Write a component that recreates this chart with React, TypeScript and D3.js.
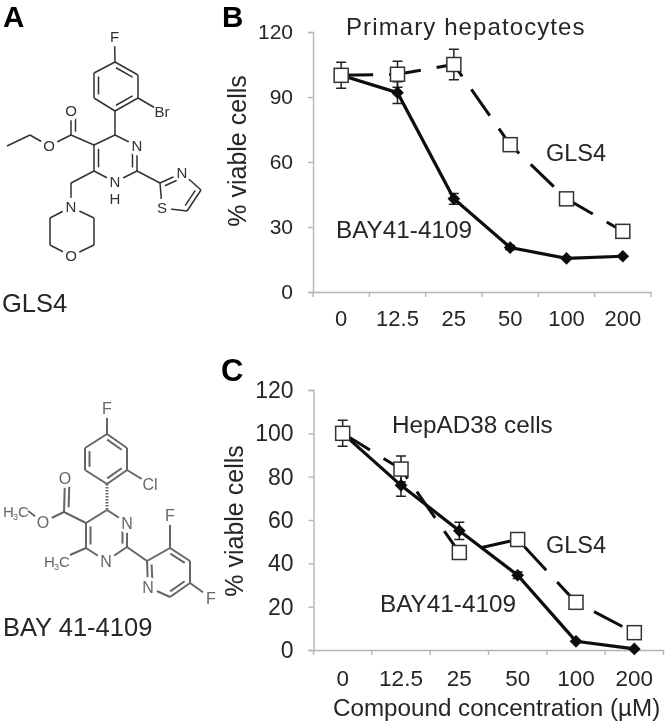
import { useEffect, useRef } from 'react';
import * as d3 from 'd3';

const doses = ['0', '12.5', '25', '50', '100', '200'];

// panel B, primary hepatocytes
const hepBay = [100, 92, 43, 20.5, 15.5, 16.5];
const hepBayErr = [0, 5, 2.5, 1, 0, 0];
const hepGls = [100, 100.5, 105, 68, 43, 28];
const hepGlsErr = [6, 6, 7, 3, 0, 0];
const hepTicks = [0, 30, 60, 90, 120];

// panel C, HepAD38
const adBay = [100, 76, 55, 34.5, 4, 0.5];
const adBayErr = [0, 5, 4, 1.5, 0, 0];
const adGls = [100, 83.5, 45, 51, 22, 8];
const adGlsErr = [6, 6, 0, 0, 0, 0];
const adTicks = [0, 20, 40, 60, 80, 100, 120];

type Atom = [number, number, string?];
type Bond = [number, number, number?];

// structures: x, y, atom label
const glsAtoms: Atom[] = [
  [115, 62], [138, 75], [138, 98], [115, 111], [94, 98], [94, 73], // 0-5 phenyl
  [114.5, 37, 'F'], [162, 112, 'Br'], // 6-7
  [115, 135], [137, 146, 'N'], [137, 171], [115, 182, 'N'], [94, 171], [94, 145], // 8-13 ring
  [71, 135], [71, 111, 'O'], [49, 146, 'O'], [30, 135], [7, 146], // 14-18 ester
  [71, 183], [71, 207, 'N'], [94, 218], [94, 245], [71, 256, 'O'], [50, 245], [50, 218], // 19-25 morpholine
  [160, 183], [182, 173, 'N'], [201, 190], [187, 211], [162, 208, 'S'], // 26-30 thiazole
];
const glsBonds: Bond[] = [
  [0, 1, 1], [1, 2], [2, 3, 1], [3, 4], [4, 5, 1], [5, 0], [0, 6], [2, 7], [3, 8],
  [8, 9], [9, 10, 1], [10, 11], [11, 12], [12, 13, 1], [13, 8], [13, 14], [14, 15, 1], [14, 16],
  [16, 17], [17, 18], [12, 19], [19, 20], [20, 21], [21, 22], [22, 23], [23, 24], [24, 25], [25, 20],
  [10, 26], [26, 27, 1], [27, 28], [28, 29, 1], [29, 30], [30, 26],
];

const bayAtoms: Atom[] = [
  [107, 434], [127, 448], [127, 470], [107, 484], [85, 470], [85, 448], // 0-5 phenyl
  [107, 408, 'F'], [150, 484, 'Cl'], // 6-7
  [107, 510], [127, 523, 'N'], [127, 547], [106, 561, 'N'], [86, 548], [86, 523], // 8-13 ring
  [64, 512], [65, 478, 'O'], [43, 522, 'O'], [28, 511], [70, 555], // 14-18
  [147, 561], [170, 548], [190, 561], [190, 583], [170, 597], [148, 587, 'N'], // 19-24 pyridine
  [170, 515, 'F'], [211, 598, 'F'], // 25-26
];
const bayBonds: Bond[] = [
  [0, 1, 1], [1, 2], [2, 3, 1], [3, 4], [4, 5, 1], [5, 0], [0, 6], [2, 7],
  [8, 9], [9, 10, 1], [10, 11], [11, 12], [12, 13, 1], [13, 8], [13, 14], [14, 15, 1], [14, 16],
  [16, 17], [12, 18], [10, 19], [19, 20], [20, 21, 1], [21, 22], [22, 23, 1], [23, 24], [24, 19, 1],
  [20, 25], [22, 26],
];
// the hashed wedge from C4 up to the phenyl ring
const bayWedge = [3, 8];

const FONT = '"Liberation Sans", Arial, sans-serif';

export default function App() {
  const svgRef = useRef<SVGSVGElement>(null);

  useEffect(() => {
    const svg = d3.select(svgRef.current);
    svg.selectAll('*').remove();
    svg.attr('font-family', FONT);

    svg.append('defs').append('filter').attr('id', 'soft')
      .append('feGaussianBlur').attr('stdDeviation', 0.45);
    const root = svg.append('g').attr('filter', 'url(#soft)');

    const label = (x: number, y: number, text: string, size: number, opts: any = {}) =>
      root.append('text')
        .attr('x', x).attr('y', y)
        .attr('font-size', size)
        .attr('fill', opts.fill || '#262626')
        .attr('font-weight', opts.weight || null)
        .attr('letter-spacing', opts.spacing || null)
        .attr('text-anchor', opts.anchor || null)
        .text(text);

    // panel letters
    label(3, 27, 'A', 29.5, { weight: 'bold', fill: '#000' });
    label(222, 27, 'B', 29.5, { weight: 'bold', fill: '#000' });
    label(221, 381, 'C', 31, { weight: 'bold', fill: '#000' });

    const molecule = (atoms: Atom[], bonds: Bond[], colour: string, width: number, size: number) => {
      const g = root.append('g');
      const line = d3.line();
      bonds.forEach(([a, b, dbl]) => {
        const p = atoms[a];
        const q = atoms[b];
        g.append('path').attr('d', line([[p[0], p[1]], [q[0], q[1]]]))
          .attr('stroke', colour).attr('stroke-width', width).attr('fill', 'none');
        if (dbl) {
          const dx = q[0] - p[0];
          const dy = q[1] - p[1];
          const len = Math.hypot(dx, dy);
          const nx = (-dy / len) * 4.5 * dbl;
          const ny = (dx / len) * 4.5 * dbl;
          const tx = dx * 0.14;
          const ty = dy * 0.14;
          g.append('path')
            .attr('d', line([[p[0] + nx + tx, p[1] + ny + ty], [q[0] + nx - tx, q[1] + ny - ty]]))
            .attr('stroke', colour).attr('stroke-width', width).attr('fill', 'none');
        }
      });
      atoms.filter((d) => d[2]).forEach((d) => {
        g.append('circle').attr('cx', d[0]).attr('cy', d[1])
          .attr('r', size * 0.62).attr('fill', '#fff');
        g.append('text').attr('x', d[0]).attr('y', d[1] + size * 0.36)
          .attr('text-anchor', 'middle').attr('font-size', size)
          .attr('fill', colour).text(d[2] as string);
      });
      return g;
    };

    const gls = molecule(glsAtoms, glsBonds, '#333', 1.5, 15);
    gls.append('text').attr('x', 115).attr('y', 204).attr('text-anchor', 'middle')
      .attr('font-size', 15).attr('fill', '#333').text('H');

    const bay = molecule(bayAtoms, bayBonds, '#666', 2, 16);
    const [wa, wb] = bayWedge;
    bay.append('path')
      .attr('d', d3.line()([[bayAtoms[wa][0], bayAtoms[wa][1]], [bayAtoms[wb][0], bayAtoms[wb][1]]]))
      .attr('stroke', '#666').attr('stroke-width', 3).attr('stroke-dasharray', '1.5 1.5').attr('fill', 'none');
    bay.append('text').attr('x', 3).attr('y', 517).attr('font-size', 15).attr('fill', '#666').text('H');
    bay.append('text').attr('x', 13).attr('y', 520).attr('font-size', 9).attr('fill', '#666').text('3');
    bay.append('text').attr('x', 18).attr('y', 517).attr('font-size', 15).attr('fill', '#666').text('C');
    bay.append('text').attr('x', 44).attr('y', 567).attr('font-size', 15).attr('fill', '#666').text('H');
    bay.append('text').attr('x', 54).attr('y', 570).attr('font-size', 9).attr('fill', '#666').text('3');
    bay.append('text').attr('x', 59).attr('y', 567).attr('font-size', 15).attr('fill', '#666').text('C');

    label(2, 312, 'GLS4', 25.5);
    label(3, 636, 'BAY 41-4109', 25.5);

    const panel = (cfg: any) => {
      const x = d3.scaleBand().domain(doses).range(cfg.xRange);
      const y = d3.scaleLinear().domain([0, 120]).range(cfg.yRange);
      const g = root.append('g');

      const yAxis = g.append('g')
        .attr('transform', `translate(${cfg.xRange[0]},0)`)
        .call(d3.axisLeft(y).tickValues(cfg.ticks).tickSize(5).tickPadding(15));
      const xAxis = g.append('g')
        .attr('transform', `translate(0,${cfg.yRange[0]})`)
        .call(d3.axisBottom(x).tickSize(0).tickPadding(cfg.xPad));
      // category ticks sit between the bands
      doses.concat('').forEach((d, i) => {
        const tx = cfg.xRange[0] + i * x.step();
        xAxis.append('line').attr('x1', tx).attr('x2', tx).attr('y1', 0).attr('y2', 5);
      });
      [yAxis, xAxis].forEach((a) => {
        a.selectAll('path,line').attr('stroke', '#b5b5b5').attr('stroke-width', 1.4);
        a.selectAll('text').attr('font-family', FONT).attr('fill', '#262626');
      });
      yAxis.selectAll('text').attr('font-size', cfg.ySize);
      xAxis.selectAll('text').attr('font-size', cfg.xSize);

      const cx = (_: number, i: number) => (x(doses[i]) as number) + x.bandwidth() / 2;
      const path = d3.line<number>().x(cx).y((d) => y(d));

      const errors = (vals: number[], errs: number[]) => {
        vals.forEach((v, i) => {
          if (!errs[i]) return;
          const px = cx(v, i);
          g.append('path')
            .attr('d', `M${px - 5},${y(v + errs[i])}H${px + 5}M${px},${y(v + errs[i])}V${y(v - errs[i])}M${px - 5},${y(v - errs[i])}H${px + 5}`)
            .attr('stroke', '#222').attr('stroke-width', 1.5).attr('fill', 'none');
        });
      };

      errors(cfg.bay, cfg.bayErr);
      errors(cfg.gls, cfg.glsErr);

      g.append('path').attr('d', path(cfg.gls)).attr('fill', 'none')
        .attr('stroke', '#111').attr('stroke-width', 3).attr('stroke-dasharray', '32 16');
      g.append('path').attr('d', path(cfg.bay)).attr('fill', 'none')
        .attr('stroke', '#0a0a0a').attr('stroke-width', 3.2);

      g.selectAll('.bay').data(cfg.bay as number[]).join('path').attr('class', 'bay')
        .attr('d', d3.symbol(d3.symbolSquare, 80))
        .attr('transform', (d, i) => `translate(${cx(d, i)},${y(d)}) rotate(45)`)
        .attr('fill', '#0a0a0a');

      const side = 14;
      g.selectAll('.gls').data(cfg.gls as number[]).join('rect').attr('class', 'gls')
        .attr('x', (d, i) => cx(d, i) - side / 2)
        .attr('y', (d) => y(d) - side / 2)
        .attr('width', side).attr('height', side)
        .attr('fill', '#fff').attr('stroke', '#333').attr('stroke-width', 1.5);
    };

    panel({
      xRange: [313, 651], yRange: [292, 32], xPad: 18, ticks: hepTicks, ySize: 21, xSize: 22,
      bay: hepBay, bayErr: hepBayErr, gls: hepGls, glsErr: hepGlsErr,
    });
    panel({
      xRange: [313.5, 663.5], yRange: [650, 390], xPad: 20, ticks: adTicks, ySize: 23, xSize: 22.5,
      bay: adBay, bayErr: adBayErr, gls: adGls, glsErr: adGlsErr,
    });

    // axis titles
    const yTitle = (cx: number, cy: number, text: string) =>
      label(0, 0, text, 25, { anchor: 'middle' })
        .attr('transform', `translate(${cx},${cy}) rotate(-90)`);
    yTitle(246, 151, '% viable cells');
    yTitle(243, 521, '% viable cells');

    label(346, 35, 'Primary hepatocytes', 24, { spacing: 1.1 });
    label(546, 161, 'GLS4', 23.5);
    label(336, 238, 'BAY41-4109', 24.3);

    label(392, 433, 'HepAD38 cells', 24.3);
    label(546, 553, 'GLS4', 23.5);
    label(380, 612, 'BAY41-4109', 24.3);
    label(333, 716, 'Compound concentration (µM)', 24.2);
  }, []);

  return (
    <svg
      ref={svgRef}
      width={666}
      height={726}
      style={{ position: 'absolute', left: 0, top: 0, background: '#fff' }}
    />
  );
}
